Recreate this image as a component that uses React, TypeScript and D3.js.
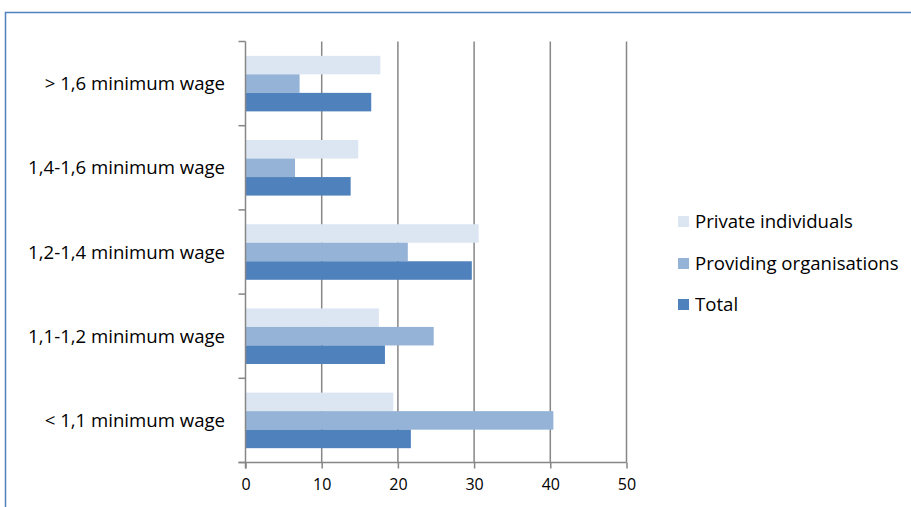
import React, { useEffect, useRef } from "react";
import * as d3 from "d3";

const categories = [
  "> 1,6 minimum wage",
  "1,4-1,6 minimum wage",
  "1,2-1,4 minimum wage",
  "1,1-1,2 minimum wage",
  "< 1,1 minimum wage",
];
const seriesNames = ["Private individuals", "Providing organisations", "Total"];
const privateIndividuals = [17.7, 14.8, 30.6, 17.5, 19.4];
const providingOrganisations = [7.1, 6.5, 21.3, 24.7, 40.4];
const total = [16.5, 13.8, 29.7, 18.3, 21.7];
const xTicks = [0, 10, 20, 30, 40, 50];
const colors = ["#DCE6F2", "#95B3D7", "#4F81BD"];

const App = () => {
  const ref = useRef<SVGSVGElement>(null);

  useEffect(() => {
    const width = 911;
    const height = 507;
    const marginLeft = 245.5;
    const marginTop = 41.5;
    const plotRight = 626.5;
    const plotBottom = 462.5;
    const font = "'Open Sans', sans-serif";

    const svg = d3.select(ref.current);
    svg.selectAll("*").remove();

    // frame
    svg
      .append("rect")
      .attr("x", 5.5)
      .attr("y", 12.5)
      .attr("width", width + 10)
      .attr("height", height + 10)
      .attr("fill", "white")
      .attr("stroke", "#4F81BD")
      .attr("stroke-width", 1.5);

    const x = d3.scaleLinear().domain([0, 50]).range([marginLeft, plotRight]);
    const y = d3
      .scaleBand()
      .domain(categories)
      .range([marginTop, plotBottom])
      .paddingInner(0.34)
      .paddingOuter(0.17);
    const inner = d3
      .scaleBand()
      .domain(seriesNames)
      .range([0, y.bandwidth()]);

    // gridlines
    svg
      .append("g")
      .selectAll("line")
      .data(xTicks.slice(1))
      .join("line")
      .attr("x1", (d) => x(d))
      .attr("x2", (d) => x(d))
      .attr("y1", marginTop)
      .attr("y2", plotBottom)
      .attr("stroke", "#868686")
      .attr("stroke-width", 1.5);

    const values = [privateIndividuals, providingOrganisations, total];
    const rows = categories.flatMap((c, i) =>
      seriesNames.map((s, j) => ({ c, s, j, v: values[j][i] }))
    );

    svg
      .append("g")
      .selectAll("rect")
      .data(rows)
      .join("rect")
      .attr("x", x(0))
      .attr("y", (d) => (y(d.c) as number) + (inner(d.s) as number))
      .attr("width", (d) => x(d.v) - x(0))
      .attr("height", inner.bandwidth())
      .attr("fill", (d) => colors[d.j]);

    // x axis
    const xAxis = svg
      .append("g")
      .attr("transform", `translate(0,${plotBottom})`)
      .call(d3.axisBottom(x).tickValues(xTicks).tickSize(6).tickSizeOuter(0).tickPadding(10));
    xAxis.select(".domain").attr("stroke", "#868686").attr("stroke-width", 1.5)
      .attr("d", `M${marginLeft - 7},0H${plotRight}`);
    xAxis.selectAll(".tick line").attr("stroke", "#868686").attr("stroke-width", 1.5);
    xAxis
      .selectAll(".tick text")
      .attr("font-family", font)
      .attr("font-size", 16)
      .attr("fill", "#000");

    // y axis
    const boundaries = d3.range(categories.length + 1).map(
      (i) => marginTop + (i * (plotBottom - marginTop)) / categories.length
    );
    const yAxis = svg.append("g");
    yAxis
      .append("line")
      .attr("x1", marginLeft)
      .attr("x2", marginLeft)
      .attr("y1", marginTop)
      .attr("y2", plotBottom + 6)
      .attr("stroke", "#868686")
      .attr("stroke-width", 1.5);
    yAxis
      .selectAll("line.tk")
      .data(boundaries)
      .join("line")
      .attr("class", "tk")
      .attr("x1", marginLeft - 7)
      .attr("x2", marginLeft)
      .attr("y1", (d) => d)
      .attr("y2", (d) => d)
      .attr("stroke", "#868686")
      .attr("stroke-width", 1.5);
    yAxis
      .selectAll("text")
      .data(categories)
      .join("text")
      .attr("x", 225)
      .attr("y", (d) => (y(d) as number) + y.bandwidth() / 2)
      .attr("dy", "0.35em")
      .attr("text-anchor", "end")
      .attr("font-family", font)
      .attr("font-size", 18.6)
      .attr("fill", "#000")
      .text((d) => d);

    // legend
    const legendY = [221, 263, 304];
    const legend = svg
      .append("g")
      .selectAll("g")
      .data(seriesNames)
      .join("g")
      .attr("transform", (d, i) => `translate(678,${legendY[i]})`);
    legend
      .append("rect")
      .attr("x", 0)
      .attr("y", -5)
      .attr("width", 11)
      .attr("height", 11)
      .attr("fill", (d, i) => colors[i]);
    legend
      .append("text")
      .attr("x", 17)
      .attr("dy", "0.35em")
      .attr("font-family", font)
      .attr("font-size", 18.6)
      .attr("fill", "#000")
      .text((d) => d);
  }, []);

  return (
    <svg
      ref={ref}
      width={911}
      height={507}
      style={{ position: "absolute", left: 0, top: 0 }}
    />
  );
};

export default App;
